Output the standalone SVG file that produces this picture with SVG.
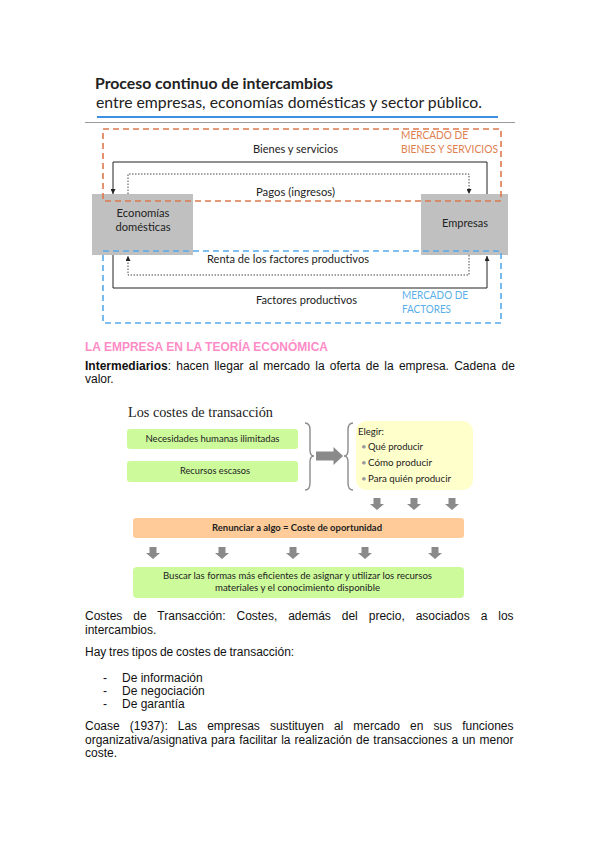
<svg xmlns="http://www.w3.org/2000/svg" width="599" height="848" viewBox="0 0 599 848">
<style>
.cal{font-family:Lato,"Open Sans","Liberation Sans",sans-serif;fill:#222}
.body{font-family:"Liberation Sans",Arial,sans-serif;font-size:12px;fill:#111}
.lbl{font-size:11.5px}
.sm{font-size:9.5px}
.box{fill:#c0c0c0}
.mkt-o{fill:none;stroke:#dc7a4c;stroke-width:1.6;stroke-dasharray:6,4}
.mkt-b{fill:none;stroke:#55a9ea;stroke-width:1.6;stroke-dasharray:6,4}
.solid{fill:none;stroke:#222;stroke-width:1}
.dot{fill:none;stroke:#333;stroke-width:0.9;stroke-dasharray:1.5,1.5}
.green{fill:#cdfb9c}
.blk{fill:#8a8a8a}
.brace{fill:none;stroke:#8c8c8c;stroke-width:1.4}
</style>
<defs>
<marker id="ah" viewBox="0 0 6 6" refX="6" refY="3" markerWidth="5" markerHeight="5" markerUnits="userSpaceOnUse" orient="auto">
<path d="M0,0 L6,3 L0,6 Z" fill="#222"/>
</marker>
<path id="dn" d="M-3.5,0 H3.5 V6 H7 L0,12 L-7,6 H-3.5 Z"/>
</defs>
<rect width="599" height="848" fill="#fff"/>

<g id="title">
<text class="cal" x="95" y="89" font-size="16" font-weight="bold" textLength="238" lengthAdjust="spacingAndGlyphs">Proceso continuo de intercambios</text>
<text class="cal" x="96" y="108" font-size="16" textLength="386" lengthAdjust="spacingAndGlyphs">entre empresas, economías domésticas y sector público.</text>
<line x1="97" y1="117" x2="498" y2="117" stroke="#3d8fdf" stroke-width="2"/>
<line x1="85" y1="122.5" x2="515" y2="122.5" stroke="#9a9a9a" stroke-width="1"/>
</g>

<g id="node-economias">
<rect class="box" x="92" y="194" width="101" height="61"/>
<text class="cal lbl" x="143" y="217" text-anchor="middle" textLength="53" lengthAdjust="spacingAndGlyphs">Economías</text>
<text class="cal lbl" x="143" y="231" text-anchor="middle" textLength="55" lengthAdjust="spacingAndGlyphs">domésticas</text>
</g>
<g id="node-empresas">
<rect class="box" x="421" y="194" width="87" height="61"/>
<text class="cal lbl" x="465" y="227" text-anchor="middle" textLength="46" lengthAdjust="spacingAndGlyphs">Empresas</text>
</g>

<g id="connectors">
<path class="solid" d="M487,194 V162 H113 V194" marker-end="url(#ah)"/>
<path class="dot" d="M128,194 V174 H469 V194" marker-end="url(#ah)"/>
<path class="dot" d="M469,255 V275 H128 V256" marker-end="url(#ah)"/>
<path class="solid" d="M113,255 V288 H487 V256" marker-end="url(#ah)"/>
</g>

<g id="labels-flows">
<text class="cal lbl" x="295.5" y="153" text-anchor="middle" textLength="85" lengthAdjust="spacingAndGlyphs">Bienes y servicios</text>
<text class="cal lbl" x="295.5" y="196" text-anchor="middle" textLength="79" lengthAdjust="spacingAndGlyphs">Pagos (ingresos)</text>
<text class="cal lbl" x="288" y="263" text-anchor="middle" textLength="162" lengthAdjust="spacingAndGlyphs">Renta de los factores productivos</text>
<text class="cal lbl" x="306.5" y="304" text-anchor="middle" textLength="101" lengthAdjust="spacingAndGlyphs">Factores productivos</text>
</g>

<g id="market-bienes">
<rect class="mkt-o" x="103" y="129" width="398" height="72"/>
<text class="cal lbl" x="401" y="139" style="fill:#e0804f" textLength="67" lengthAdjust="spacingAndGlyphs">MERCADO DE</text>
<text class="cal lbl" x="401" y="153" style="fill:#e0804f" textLength="97" lengthAdjust="spacingAndGlyphs">BIENES Y SERVICIOS</text>
</g>
<g id="market-factores">
<rect class="mkt-b" x="103" y="251" width="398" height="72"/>
<text class="cal lbl" x="402" y="299" style="fill:#5aafea" textLength="66" lengthAdjust="spacingAndGlyphs">MERCADO DE</text>
<text class="cal lbl" x="402" y="313" style="fill:#5aafea" textLength="49" lengthAdjust="spacingAndGlyphs">FACTORES</text>
</g>

<g id="section">
<text x="85" y="351" font-family="Liberation Sans,Arial,sans-serif" font-size="12" font-weight="bold" fill="#ff8cc6" textLength="243" lengthAdjust="spacingAndGlyphs">LA EMPRESA EN LA TEORÍA ECONÓMICA</text>
<text class="body" x="85" y="370" word-spacing="1.9"><tspan font-weight="bold">Intermediarios</tspan>: hacen llegar al mercado la oferta de la empresa. Cadena de</text>
<text class="body" x="85" y="383">valor.</text>
</g>

<g id="costes-title">
<text x="128" y="417" font-family="Liberation Serif,Times New Roman,serif" font-size="14.5" fill="#222" textLength="145" lengthAdjust="spacingAndGlyphs">Los costes de transacción</text>
</g>

<g id="node-necesidades">
<rect class="green" x="127" y="429" width="171" height="20" rx="3"/>
<text class="cal sm" x="212.5" y="442" text-anchor="middle" textLength="134" lengthAdjust="spacingAndGlyphs">Necesidades humanas ilimitadas</text>
</g>
<g id="node-recursos">
<rect class="green" x="127" y="461" width="171" height="21" rx="3"/>
<text class="cal sm" x="215" y="474" text-anchor="middle" textLength="70" lengthAdjust="spacingAndGlyphs">Recursos escasos</text>
</g>

<g id="braces-arrow">
<path class="brace" d="M305,423 Q310,423 310,430 L310,450 Q310,456 314,456 Q310,456 310,462 L310,483 Q310,490 305,490"/>
<path class="blk" d="M316,451.5 H333.5 V447 L343,456 L333.5,465 V460.5 H316 Z"/>
<path class="brace" d="M353,423 Q348,423 348,430 L348,450 Q348,456 344,456 Q348,456 348,462 L348,483 Q348,490 353,490"/>
</g>

<g id="node-elegir">
<rect x="356" y="421" width="117" height="69" rx="10" fill="#ffffcc"/>
<text class="cal sm" x="358" y="435" textLength="26" lengthAdjust="spacingAndGlyphs">Elegir:</text>
<text class="cal sm" x="361" y="450" style="fill:#999">•</text>
<text class="cal sm" x="368" y="450" textLength="55" lengthAdjust="spacingAndGlyphs">Qué producir</text>
<text class="cal sm" x="361" y="466" style="fill:#999">•</text>
<text class="cal sm" x="368" y="466" textLength="64" lengthAdjust="spacingAndGlyphs">Cómo producir</text>
<text class="cal sm" x="361" y="482" style="fill:#999">•</text>
<text class="cal sm" x="368" y="482" textLength="83" lengthAdjust="spacingAndGlyphs">Para quién producir</text>
</g>

<g id="arrows-down-1" class="blk">
<use href="#dn" x="377" y="498"/>
<use href="#dn" x="414" y="498"/>
<use href="#dn" x="452" y="498"/>
</g>

<g id="node-renunciar">
<rect x="133" y="518" width="331" height="20" rx="3" fill="#ffcc99"/>
<text class="cal sm" x="297" y="531" text-anchor="middle" font-weight="bold" textLength="170" lengthAdjust="spacingAndGlyphs">Renunciar a algo = Coste de oportunidad</text>
</g>

<g id="arrows-down-2" class="blk">
<use href="#dn" x="153" y="547"/>
<use href="#dn" x="222" y="547"/>
<use href="#dn" x="293" y="547"/>
<use href="#dn" x="365" y="547"/>
<use href="#dn" x="435" y="547"/>
</g>

<g id="node-buscar">
<rect class="green" x="133" y="567" width="331" height="31" rx="4"/>
<text class="cal sm" x="297.5" y="579" text-anchor="middle" textLength="269" lengthAdjust="spacingAndGlyphs">Buscar las formas más eficientes de asignar y utilizar los recursos</text>
<text class="cal sm" x="297.5" y="591" text-anchor="middle" textLength="165" lengthAdjust="spacingAndGlyphs">materiales y el conocimiento disponible</text>
</g>

<g id="body-text">
<text class="body" x="85" y="620" word-spacing="7.6">Costes de Transacción: Costes, además del precio, asociados a los</text>
<text class="body" x="85" y="634">intercambios.</text>
<text class="body" x="85" y="656" word-spacing="-0.6">Hay tres tipos de costes de transacción:</text>
<text class="body" x="103" y="682">-</text>
<text class="body" x="122" y="682">De información</text>
<text class="body" x="103" y="695">-</text>
<text class="body" x="122" y="695">De negociación</text>
<text class="body" x="103" y="708">-</text>
<text class="body" x="122" y="708">De garantía</text>
<text class="body" x="85" y="730" word-spacing="6.7">Coase (1937): Las empresas sustituyen al mercado en sus funciones</text>
<text class="body" x="85" y="744" word-spacing="0.7">organizativa/asignativa para facilitar la realización de transacciones a un menor</text>
<text class="body" x="85" y="757">coste.</text>
</g>
</svg>
